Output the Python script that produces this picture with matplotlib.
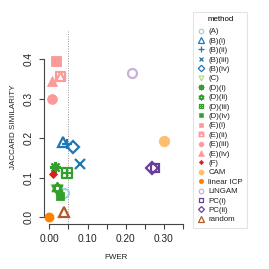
import matplotlib
matplotlib.use("Agg")
import matplotlib.pyplot as plt
from matplotlib.path import Path
from matplotlib.lines import Line2D

plt.rcParams['font.family'] = ['Liberation Sans', 'DejaVu Sans']

methods = ["(A)", "(B)(i)", "(B)(ii)", "(B)(iii)", "(B)(iv)", "(C)",
           "(D)(i)", "(D)(ii)", "(D)(iii)", "(D)(iv)",
           "(E)(i)", "(E)(ii)", "(E)(iii)", "(E)(iv)", "(F)",
           "CAM", "linear ICP", "LiNGAM", "PC(i)", "PC(ii)", "random"]
fwer = [0.039, 0.037, 0.045, 0.079, 0.063, 0.020,
        0.015, 0.019, 0.045, 0.028,
        0.0175, 0.028, 0.006, 0.006, 0.010,
        0.300, 0.000, 0.217, 0.277, 0.268, 0.039]
jaccard = [0.062, 0.191, 0.186, 0.135, 0.177, 0.070,
           0.128, 0.075, 0.112, 0.055,
           0.396, 0.357, 0.299, 0.345, 0.110,
           0.192, 0.000, 0.365, 0.124, 0.124, 0.013]
x_ticks = [0.00, 0.05, 0.10, 0.15, 0.20, 0.25, 0.30, 0.35]
x_ticklabels = ["0.00", "", "0.10", "", "0.20", "", "0.30", ""]
y_ticks = [0.0, 0.1, 0.2, 0.3, 0.4]
y_ticklabels = ["0.0", "0.1", "0.2", "0.3", "0.4"]
threshold = 0.05

# ---- styles ----
M, L, C = Path.MOVETO, Path.LINETO, Path.CLOSEPOLY
star_david = Path([(0, 1), (-0.866, -0.5), (0.866, -0.5), (0, 1),
                   (0, -1), (-0.866, 0.5), (0.866, 0.5), (0, -1)],
                  [M, L, L, C, M, L, L, C])
square_plus = Path([(-1, -1), (1, -1), (1, 1), (-1, 1), (-1, -1),
                    (0, -1), (0, 1), (-1, 0), (1, 0)],
                   [M, L, L, L, C, M, L, M, L])
square_tri = Path([(-1, -1), (1, -1), (1, 1), (-1, 1), (-1, -1),
                   (-1, -1), (0, 1), (1, -1)],
                  [M, L, L, L, C, M, L, L])

blue_l, blue_d = "#A6CEE3", "#1F78B4"
green_l, green_d = "#B2DF8A", "#33A02C"
pink, red = "#FB9A99", "#E31A1C"
orange_l, orange_d = "#FDBF6F", "#FF7F00"
purple_l, purple_d = "#CAB2D6", "#6A3D9A"
brown = "#B15928"

# (color, marker, filled, size)
styles = {
    "(A)": (blue_l, "o", False, 6.5),
    "(B)(i)": (blue_d, "^", False, 7.5),
    "(B)(ii)": (blue_d, "+", False, 7.5),
    "(B)(iii)": (blue_d, "x", False, 7.0),
    "(B)(iv)": (blue_d, "D", False, 6.5),
    "(C)": (green_l, "v", False, 7.0),
    "(D)(i)": (green_d, (8, 2, 0), False, 8.0),
    "(D)(ii)": (green_d, star_david, False, 8.0),
    "(D)(iii)": (green_d, square_plus, False, 6.5),
    "(D)(iv)": (green_d, "s", True, 6.0),
    "(E)(i)": (pink, "s", True, 6.5),
    "(E)(ii)": (pink, square_tri, False, 6.5),
    "(E)(iii)": (pink, "o", True, 7.0),
    "(E)(iv)": (pink, "^", True, 7.5),
    "(F)": (red, "D", True, 4.5),
    "CAM": (orange_l, "o", True, 7.5),
    "linear ICP": (orange_d, "o", True, 6.5),
    "LiNGAM": (purple_l, "o", False, 6.5),
    "PC(i)": (purple_d, "s", False, 6.0),
    "PC(ii)": (purple_d, "D", False, 6.0),
    "random": (brown, "^", False, 7.5),
}

W = H = 269
fig = plt.figure(figsize=(W / 100, H / 100), dpi=100)
left, right, top, bottom = 44.0, 188.4, 30.0, 223.6
ax = fig.add_axes([left / W, 1 - bottom / H, (right - left) / W, (bottom - top) / H])
ax.set_xlim(-0.014, 0.364)
ax.set_ylim(-0.016, 0.474)

ax.axvline(threshold, ls=(0, (1, 1.5)), color="#999999", lw=0.7, zorder=1)

for m, xv, yv in zip(methods, fwer, jaccard):
    col, mk, filled, sz = styles[m]
    ax.plot([xv], [yv], linestyle="none", marker=mk, markersize=sz,
            markeredgecolor=col, markerfacecolor=col if filled else "none",
            markeredgewidth=0.6 if filled else 1.6, clip_on=False, zorder=3)

for s in ["top", "right"]:
    ax.spines[s].set_visible(False)
ax.spines["left"].set_bounds(0, 0.4)
ax.spines["bottom"].set_bounds(0, 0.35)
for s in ["left", "bottom"]:
    ax.spines[s].set_color("#444444")
    ax.spines[s].set_linewidth(0.8)
ax.set_xticks(x_ticks)
ax.set_xticklabels(x_ticklabels)
ax.set_yticks(y_ticks)
ax.set_yticklabels(y_ticklabels, rotation=90, va="center")
ax.tick_params(axis="both", length=3.5, width=0.8, color="#444444",
               labelsize=7.3, labelcolor="#222222", pad=4)
ax.set_xlabel("FWER", fontsize=5.8, color="#222222", labelpad=7)
ax.set_ylabel("JACCARD SIMILARITY", fontsize=5.8, color="#222222", labelpad=5)

handles = []
for m in methods:
    col, mk, filled, sz = styles[m]
    handles.append(Line2D([], [], linestyle="none", marker=mk, markersize=sz * 0.5,
                          markeredgecolor=col, markerfacecolor=col if filled else "none",
                          markeredgewidth=0.4 if filled else 0.9))
leg = fig.legend(handles, methods, loc="upper left",
                 bbox_to_anchor=(193 / W, 1 - 11.7 / H), title="method",
                 fontsize=5.7, title_fontsize=5.7, frameon=True, fancybox=False,
                 edgecolor="#dddddd", handlelength=0.8, handletextpad=0.6,
                 labelspacing=0.235, borderpad=0.55, borderaxespad=0)
leg._legend_box.sep = 3.5
leg.get_frame().set_linewidth(0.8)
for t in leg.get_texts():
    t.set_color("#222222")

fig.savefig("out.png", dpi=100)
